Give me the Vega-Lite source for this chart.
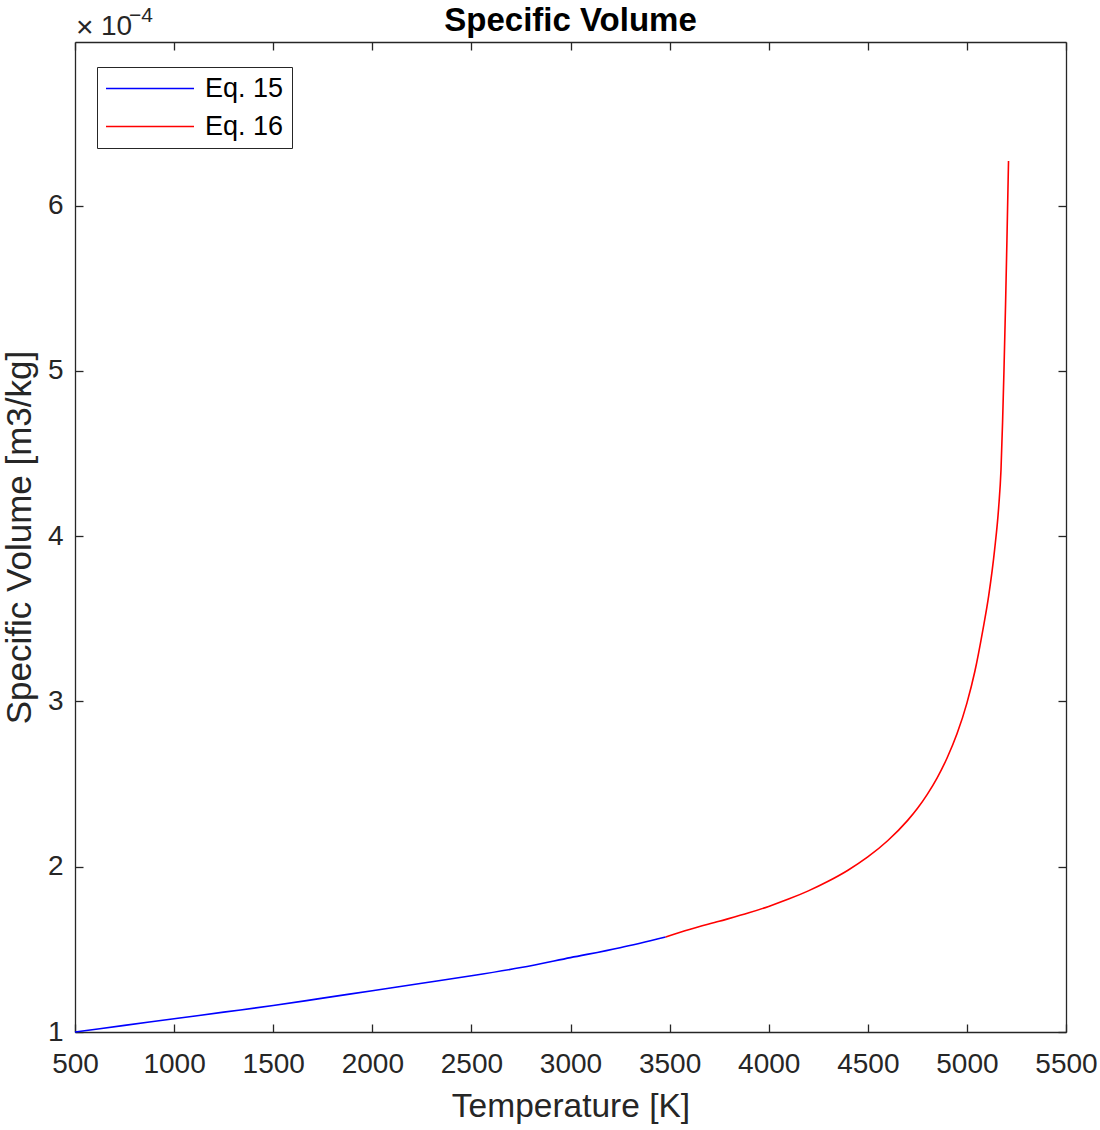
{
  "$schema": "https://vega.github.io/schema/vega-lite/v6.json",
  "width": 991,
  "height": 990,
  "autosize": "none",
  "padding": {"left": 75, "top": 42, "right": 34, "bottom": 98},
  "background": "white",
  "data": {
    "values": [
      {"T": 500, "V": 0.000100, "eq": "Eq. 15"},
      {"T": 750, "V": 0.000104, "eq": "Eq. 15"},
      {"T": 1000, "V": 0.000108, "eq": "Eq. 15"},
      {"T": 1250, "V": 0.000112, "eq": "Eq. 15"},
      {"T": 1500, "V": 0.000116, "eq": "Eq. 15"},
      {"T": 1750, "V": 0.0001205, "eq": "Eq. 15"},
      {"T": 2000, "V": 0.000125, "eq": "Eq. 15"},
      {"T": 2250, "V": 0.0001295, "eq": "Eq. 15"},
      {"T": 2500, "V": 0.000134, "eq": "Eq. 15"},
      {"T": 2750, "V": 0.000139, "eq": "Eq. 15"},
      {"T": 3000, "V": 0.000145, "eq": "Eq. 15"},
      {"T": 3250, "V": 0.000151, "eq": "Eq. 15"},
      {"T": 3480, "V": 0.0001575, "eq": "Eq. 15"},
      {"T": 3480, "V": 0.0001575, "eq": "Eq. 16"},
      {"T": 3600, "V": 0.000162, "eq": "Eq. 16"},
      {"T": 3750, "V": 0.000167, "eq": "Eq. 16"},
      {"T": 3900, "V": 0.0001721, "eq": "Eq. 16"},
      {"T": 4000, "V": 0.000176, "eq": "Eq. 16"},
      {"T": 4100, "V": 0.0001804, "eq": "Eq. 16"},
      {"T": 4200, "V": 0.0001854, "eq": "Eq. 16"},
      {"T": 4300, "V": 0.0001912, "eq": "Eq. 16"},
      {"T": 4400, "V": 0.0001979, "eq": "Eq. 16"},
      {"T": 4500, "V": 0.0002059, "eq": "Eq. 16"},
      {"T": 4600, "V": 0.0002157, "eq": "Eq. 16"},
      {"T": 4700, "V": 0.0002279, "eq": "Eq. 16"},
      {"T": 4750, "V": 0.0002352, "eq": "Eq. 16"},
      {"T": 4800, "V": 0.0002438, "eq": "Eq. 16"},
      {"T": 4850, "V": 0.0002538, "eq": "Eq. 16"},
      {"T": 4900, "V": 0.0002658, "eq": "Eq. 16"},
      {"T": 4950, "V": 0.0002804, "eq": "Eq. 16"},
      {"T": 5000, "V": 0.000299, "eq": "Eq. 16"},
      {"T": 5040, "V": 0.0003181, "eq": "Eq. 16"},
      {"T": 5080, "V": 0.0003429, "eq": "Eq. 16"},
      {"T": 5110, "V": 0.000364, "eq": "Eq. 16"},
      {"T": 5140, "V": 0.000392, "eq": "Eq. 16"},
      {"T": 5160, "V": 0.000417, "eq": "Eq. 16"},
      {"T": 5172, "V": 0.000440, "eq": "Eq. 16"},
      {"T": 5180, "V": 0.000469, "eq": "Eq. 16"},
      {"T": 5187, "V": 0.000500, "eq": "Eq. 16"},
      {"T": 5195, "V": 0.000540, "eq": "Eq. 16"},
      {"T": 5202, "V": 0.000579, "eq": "Eq. 16"},
      {"T": 5210, "V": 0.000627, "eq": "Eq. 16"}
    ]
  },
  "layer": [
    {
      "mark": {"type": "line", "strokeWidth": 1.6, "interpolate": "monotone"},
      "encoding": {
        "x": {
          "field": "T", "type": "quantitative",
          "scale": {"domain": [500, 5500], "nice": false, "zero": false},
          "axis": {
            "orient": "bottom",
            "values": [500, 1000, 1500, 2000, 2500, 3000, 3500, 4000, 4500, 5000, 5500],
            "format": "d",
            "labelFlush": false,
            "tickSize": -8,
            "labelPadding": 26,
            "title": "Temperature [K]",
            "titleFontSize": 33.5,
            "titlePadding": 12
          }
        },
        "y": {
          "field": "V", "type": "quantitative",
          "scale": {"domain": [0.0001, 0.000699], "nice": false, "zero": false},
          "axis": {
            "orient": "left",
            "values": [0.0001, 0.0002, 0.0003, 0.0004, 0.0005, 0.0006],
            "labelExpr": "format(datum.value * 10000, 'd')",
            "labelFlush": false,
            "tickSize": -8,
            "labelPadding": 20,
            "title": "Specific Volume [m3/kg]",
            "titleFontSize": 35,
            "titlePadding": 10
          }
        },
        "color": {
          "field": "eq", "type": "nominal",
          "scale": {"domain": ["Eq. 15", "Eq. 16"], "range": ["#0000ff", "#ff0000"]},
          "legend": {
            "orient": "none",
            "legendX": 22,
            "legendY": 25,
            "title": null,
            "symbolType": "stroke",
            "symbolSize": 7744,
            "symbolStrokeWidth": 1.6,
            "clipHeight": 27,
            "labelFont": "Liberation Sans",
            "labelFontSize": 27,
            "labelColor": "#000000",
            "labelOffset": 10,
            "rowPadding": 10,
            "padding": 8,
            "strokeColor": "#262626",
            "fillColor": "white",
            "cornerRadius": 0
          }
        }
      }
    },
    {
      "mark": {"type": "line", "opacity": 0},
      "encoding": {
        "x": {
          "field": "T", "type": "quantitative",
          "axis": {
            "orient": "top",
            "values": [500, 1000, 1500, 2000, 2500, 3000, 3500, 4000, 4500, 5000, 5500],
            "labels": false,
            "tickSize": -8,
            "title": null
          }
        },
        "y": {
          "field": "V", "type": "quantitative",
          "axis": {
            "orient": "right",
            "values": [0.0001, 0.0002, 0.0003, 0.0004, 0.0005, 0.0006],
            "labels": false,
            "tickSize": -8,
            "title": null
          }
        }
      }
    },
    {
      "data": {"values": [{"T": 3000, "V": 0.000699, "label": "Specific Volume"}]},
      "mark": {"type": "text", "align": "center", "baseline": "alphabetic", "font": "Liberation Sans", "fontSize": 33, "fontWeight": "bold", "color": "#000000", "dy": -11},
      "encoding": {
        "x": {"field": "T", "type": "quantitative", "axis": null},
        "y": {"field": "V", "type": "quantitative", "axis": null},
        "text": {"field": "label"}
      }
    },
    {
      "data": {"values": [{"T": 500, "V": 0.000699}]},
      "mark": {"type": "text", "align": "left", "baseline": "alphabetic", "font": "Liberation Sans", "fontSize": 30, "color": "#262626", "dx": 1, "dy": -5},
      "encoding": {
        "x": {"field": "T", "type": "quantitative", "axis": null},
        "y": {"field": "V", "type": "quantitative", "axis": null},
        "text": {"value": "×"}
      }
    },
    {
      "data": {"values": [{"T": 500, "V": 0.000699}]},
      "mark": {"type": "text", "align": "left", "baseline": "alphabetic", "font": "Liberation Sans", "fontSize": 28, "color": "#262626", "dx": 26, "dy": -7},
      "encoding": {
        "x": {"field": "T", "type": "quantitative", "axis": null},
        "y": {"field": "V", "type": "quantitative", "axis": null},
        "text": {"value": "10"}
      }
    },
    {
      "data": {"values": [{"T": 500, "V": 0.000699}]},
      "mark": {"type": "text", "align": "left", "baseline": "alphabetic", "font": "Liberation Sans", "fontSize": 21, "color": "#262626", "dx": 54, "dy": -20},
      "encoding": {
        "x": {"field": "T", "type": "quantitative", "axis": null},
        "y": {"field": "V", "type": "quantitative", "axis": null},
        "text": {"value": "−4"}
      }
    }
  ],
  "resolve": {"axis": {"x": "independent", "y": "independent"}},
  "config": {
    "view": {"stroke": null},
    "axis": {
      "grid": false,
      "domainColor": "#262626",
      "domainWidth": 1.3,
      "tickColor": "#262626",
      "tickWidth": 1.3,
      "labelColor": "#262626",
      "titleColor": "#262626",
      "labelFont": "Liberation Sans",
      "titleFont": "Liberation Sans",
      "labelFontSize": 28,
      "titleFontSize": 32,
      "titleFontWeight": "normal"
    }
  }
}
